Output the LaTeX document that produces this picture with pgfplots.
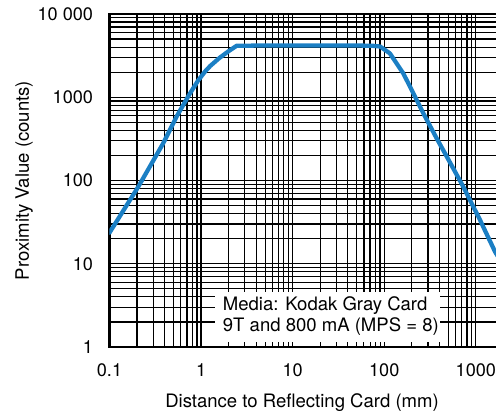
\documentclass[border=0pt]{standalone}
\usepackage{fontspec}
\setmainfont{TeX Gyre Heros}
\usepackage{pgfplots}
\usepackage{pgfplotstable}
\pgfplotsset{compat=1.18}
\definecolor{curveblue}{HTML}{1B7FC4}
\pgfdeclarelayer{textbox}
\pgfplotsset{
  layers/mylayers/.define layer set={
    axis background,axis grid,textbox,axis ticks,axis lines,axis tick labels,pre main,main,axis descriptions,axis foreground
  }{
    grid style={/pgfplots/on layer=axis grid},
    tick style={/pgfplots/on layer=axis ticks},
    axis line style={/pgfplots/on layer=axis lines},
    label style={/pgfplots/on layer=axis descriptions},
    legend style={/pgfplots/on layer=axis descriptions},
    title style={/pgfplots/on layer=axis descriptions},
    ticklabel style={/pgfplots/on layer=axis tick labels},
  },
}
\pgfplotstableread{
x y
0.1 23.6
0.206 84
0.386 280
0.542 590
0.741 1072
0.933 1603
1.122 2080
1.259 2377
1.585 2965
1.995 3573
2.449 4159
5 4180
10 4180
30 4190
60 4170
75 4150
90 4070
115 3370
136 2560
161 1940
191 1340
267 641
373 321
460 212
728 84.3
1109 33.6
1618 13.96
1900 10.5
}\curve
\begin{document}
\begin{tikzpicture}
\begin{axis}[
  set layers=mylayers,
  xmode=log, ymode=log,
  scale only axis,
  width=292.875pt, height=249.75pt,
  xmin=0.1, xmax=1834, ymin=1, ymax=10000,
  grid=both,
  major grid style={black, line width=0.9pt},
  minor grid style={black, line width=0.9pt},
  axis line style={black, line width=1.6pt},
  tick style={black, line width=0.8pt},
  major tick length=3.5pt, minor tick length=3.5pt,
  tick align=inside,
  xtick pos=bottom, ytick pos=left,
  xtick={0.1,1,10,100,1000},
  xticklabels={0.1,1,10,100,1000},
  ytick={1,10,100,1000,10000},
  yticklabels={1,10,100,1000,10\ 000},
  ticklabel style={font=\fontsize{13.6}{16}\selectfont},
  xticklabel style={yshift=-8.9pt},
  yticklabel style={xshift=-8.8pt},
  label style={font=\fontsize{13.9}{16}\selectfont},
  xlabel={Distance to Reflecting Card (mm)},
  ylabel={Proximity Value (counts)},
  xlabel style={at={(axis description cs:0.493,-0.1802)}, anchor=base},
  ylabel style={at={(axis description cs:-0.2187,0.5)}, anchor=center},
]
\addplot[curveblue, line width=3.2pt, line join=round, line cap=round] table[x=x,y=y] {\curve};
\begin{pgfonlayer}{textbox}
\fill[white] (axis cs:1.42,1) rectangle (axis cs:405,4.58);
\node[anchor=base west, inner sep=0pt, font=\fontsize{13.9}{16}\selectfont] at (axis cs:1.72,2.78) {Media: Kodak Gray Card};
\node[anchor=base west, inner sep=0pt, font=\fontsize{13.9}{16}\selectfont] at (axis cs:1.72,1.534) {9T and 800 mA (MPS = 8)};
\end{pgfonlayer}
\end{axis}
\pgfresetboundingbox
\useasboundingbox (-82.125pt,-48.75pt) rectangle (289.875pt,260.25pt);
\end{tikzpicture}
\end{document}
